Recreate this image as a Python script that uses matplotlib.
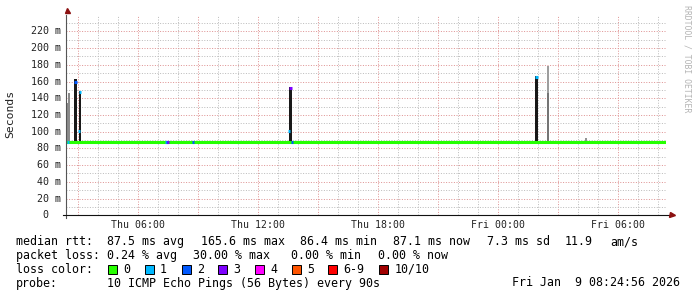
import matplotlib
matplotlib.use("Agg")
import matplotlib.pyplot as plt
import matplotlib.transforms as mtransforms
from matplotlib.patches import Rectangle

W, H = 697, 297

# time axis: hours since Thu 00:00, 30 h window ending Fri 08:24:56
t_end = 32 + 25 / 60 - 4 / 3600
t_start = t_end - 30

tick_hours = [6, 12, 18, 24, 30]
tick_labels = ["Thu 06:00", "Thu 12:00", "Thu 18:00", "Fri 00:00", "Fri 06:00"]
y_ticks = [0, 20, 40, 60, 80, 100, 120, 140, 160, 180, 200, 220]

# median rtt (ms), hourly
median_hours = list(range(2, 34))
median_ms = [87.9, 87.8, 87.9, 88.0, 87.8, 87.9, 87.8, 87.9, 87.8, 87.9,
             87.8, 87.9, 88.0, 87.9, 87.8, 87.9, 87.9, 87.8, 87.9, 87.8,
             87.9, 87.8, 87.9, 88.0, 87.9, 87.8, 87.9, 87.8, 87.9, 87.8,
             87.9, 87.9]

# smoke (spread of the 10 pings)
smoke_hours = [2.515, 2.565, 2.885, 3.10, 13.635, 25.935, 26.515, 26.515, 28.40]
smoke_low = [87.5, 87.5, 87.0, 87.0, 87.0, 87.0, 88.0, 146.0, 88.0]
smoke_high = [134, 146, 163, 149, 153, 167, 146, 178, 92]
smoke_density = [0.45, 0.45, 1.0, 1.0, 1.0, 1.0, 0.55, 0.35, 0.4]

# samples with packet loss: time, median rtt, lost pings
loss_hours = [2.515, 2.885, 3.05, 3.10, 7.39, 7.45, 7.50, 8.765, 13.565, 13.62, 13.715, 25.935]
loss_rtt = [88.0, 160.0, 101.0, 147.0, 88.0, 88.0, 88.0, 88.0, 101.0, 152.0, 88.0, 165.0]
loss_count = [1, 2, 1, 1, 1, 2, 3, 2, 1, 3, 2, 1]

loss_colors = ["#26ff00", "#00b8ff", "#0059ff", "#7e00ff", "#ff00ff",
               "#ff5500", "#ff0000", "#a10000"]
loss_names = ["0", "1", "2", "3", "4", "5", "6-9", "10/10"]

rtt_items = ["87.5 ms avg", "165.6 ms max", "86.4 ms min", "87.1 ms now", "7.3 ms sd", "11.9", "am/s"]
loss_items = ["0.24 % avg", "30.00 % max", "0.00 % min", "0.00 % now"]
probe_text = "10 ICMP Echo Pings (56 Bytes) every 90s"
stamp_text = "Fri Jan  9 08:24:56 2026"

mono = "DejaVu Sans Mono"


def fx(px):
    return px / W


def fy(py):
    return 1 - py / H


def loss_color(n):
    if n >= 10:
        return loss_colors[7]
    if n >= 6:
        return loss_colors[6]
    return loss_colors[n]


fig = plt.figure(figsize=(W / 100, H / 100), dpi=100)
fig.patch.set_facecolor("white")

x0, x1 = 66.3, 666.3
y_bot, y_top = 215.3, 14.6
ax = fig.add_axes([fx(x0), fy(y_bot), (x1 - x0) / W, (y_bot - y_top) / H])
ax.set_xlim(t_start, t_end)
ax.set_ylim(0, 240)

# grid
ax.set_xticks(list(range(3, 33, 3)))
ax.set_xticks(list(range(3, 33)), minor=True)
ax.set_yticks(list(range(0, 240, 20)))
ax.set_yticks(list(range(10, 240, 10)), minor=True)
ax.set_xticklabels([])
ax.set_yticklabels([])
ax.tick_params(which="both", length=0)
dots = (0, (1, 1.6))
ax.grid(which="minor", color="#bdbdbd", linestyle=dots, linewidth=0.72)
ax.grid(which="major", color="#df9595", linestyle=dots, linewidth=0.72)
ax.set_axisbelow(True)
for s in ax.spines.values():
    s.set_visible(False)

# smoke
greys = []
widths = []
for d in smoke_density:
    g = 0.9 - 0.8 * d
    greys.append((g, g, g))
    widths.append(0.13 if d > 0.8 else 0.08)
heights = [h - l for h, l in zip(smoke_high, smoke_low)]
ax.bar(smoke_hours, heights, bottom=smoke_low, width=widths, color=greys,
       linewidth=0, zorder=3)

# median line
ax.plot(median_hours, median_ms, drawstyle="steps-post", color=loss_colors[0],
        linewidth=2.2, solid_capstyle="butt", zorder=4)
for h, r, n in zip(loss_hours, loss_rtt, loss_count):
    ax.plot([h - 0.06, h + 0.06], [r, r], color=loss_color(n), linewidth=2.2,
            solid_capstyle="butt", zorder=5)

# axes lines and arrows
ax.plot([0, 0], [-0.015, 1.0], transform=ax.transAxes, color="#555555",
        linewidth=0.8, clip_on=False, zorder=6)
ax.plot([-0.006, 1.006], [0, 0], transform=ax.transAxes, color="#111111",
        linewidth=0.8, clip_on=False, zorder=6)
ax.plot([0.001], [1.022], transform=ax.transAxes, marker="^", markersize=3.6,
        color="#8b1010", clip_on=False, zorder=7)
ax.plot([1.0095], [0], transform=ax.transAxes, marker=">", markersize=3.6,
        color="#8b1010", clip_on=False, zorder=7)

# y tick labels
ty = mtransforms.blended_transform_factory(fig.transFigure, ax.transData)
for v in y_ticks:
    if v:
        ax.text(fx(60.8), v, f"{v} m", transform=ty, ha="right", va="center",
                family=mono, fontsize=7.2, color="#222222")
    else:
        ax.text(fx(48.2), v, "0", transform=ty, ha="right", va="center",
                family=mono, fontsize=7.2, color="#222222")

# x tick labels
tx = mtransforms.blended_transform_factory(ax.transData, fig.transFigure)
for h, lab in zip(tick_hours, tick_labels):
    ax.text(h, fy(224.7), lab, transform=tx, ha="center", va="center",
            family=mono, fontsize=7.1, color="#222222")

fig.text(fx(10.5), fy(114), "Seconds", rotation=90, ha="center", va="center",
         family=mono, fontsize=8.2, color="#222222")
fig.text(fx(687.5), fy(59), "RRDTOOL / TOBI OETIKER", rotation=270,
         ha="center", va="center", family=mono, fontsize=5.9, color="#b4b4b4")

# legend block
fs = 8.4
rows = [241.7, 255.3, 269.3, 283.0]
fig.text(fx(16), fy(rows[0]), "median rtt:", family=mono, fontsize=fs, va="center")
for s, px in zip(rtt_items, [107.3, 201, 300.3, 393.3, 486.7, 565, 610]):
    fig.text(fx(px), fy(rows[0]), s, family=mono, fontsize=fs, va="center")

fig.text(fx(16), fy(rows[1]), "packet loss:", family=mono, fontsize=fs, va="center")
for s, px in zip(loss_items, [107.3, 193.3, 291.3, 378.3]):
    fig.text(fx(px), fy(rows[1]), s, family=mono, fontsize=fs, va="center")

fig.text(fx(16), fy(rows[2]), "loss color:", family=mono, fontsize=fs, va="center")
bx = 108.3
for name, col in zip(loss_names, loss_colors):
    fig.add_artist(Rectangle((fx(bx), fy(273.8)), 9 / W, 9 / H,
                             transform=fig.transFigure, facecolor=col,
                             edgecolor="black", linewidth=0.7))
    fig.text(fx(bx + 15), fy(rows[2]), name, family=mono, fontsize=fs, va="center")
    bx += 36.7 + (len(name) - 1) * 7.0

fig.text(fx(16), fy(rows[3]), "probe:", family=mono, fontsize=fs, va="center")
fig.text(fx(107.3), fy(rows[3]), probe_text, family=mono, fontsize=fs, va="center")
fig.text(fx(680.5), fy(rows[3]), stamp_text, family=mono, fontsize=fs,
         va="center", ha="right")

fig.savefig("out.png", dpi=100, facecolor="white")
